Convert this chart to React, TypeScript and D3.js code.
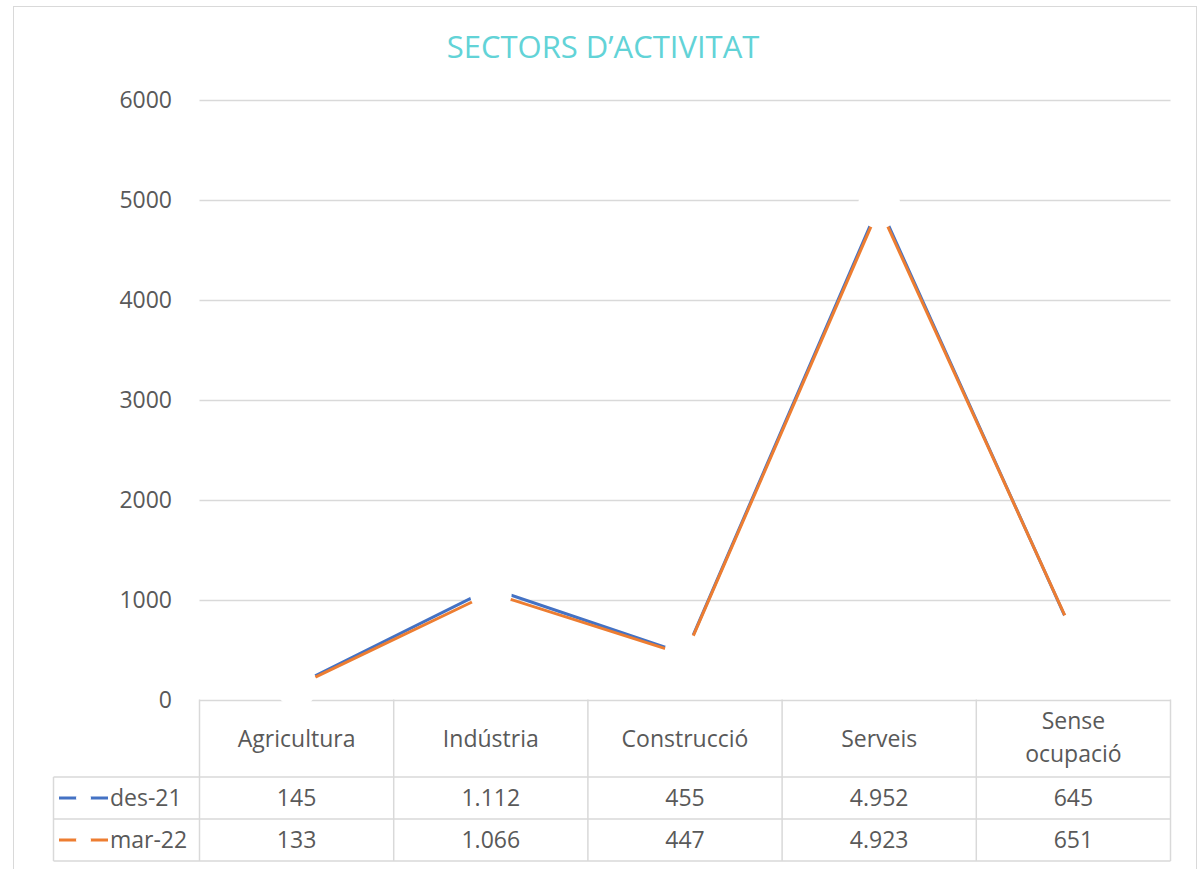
import React, { useEffect, useRef } from 'react';
import * as d3 from 'd3';

const categories = ['Agricultura', 'Indústria', 'Construcció', 'Serveis', 'Sense ocupació'];
const seriesNames = ['des-21', 'mar-22'];
const des21 = [145, 1112, 455, 4952, 645];
const mar22 = [133, 1066, 447, 4923, 651];
const tableLabels = [
  ['145', '1.112', '455', '4.952', '645'],
  ['133', '1.066', '447', '4.923', '651'],
];
const yTicks = [0, 1000, 2000, 3000, 4000, 5000, 6000];
const colors = ['#4472c4', '#ed7d31'];

const W = 1201;
const H = 869;
const FONT = '"Open Sans", sans-serif';
const TEXT = '#595959';
const GRID = '#d9d9d9';

const App = () => {
  const svgRef = useRef<SVGSVGElement | null>(null);

  useEffect(() => {
    const svg = d3.select(svgRef.current);
    svg.selectAll('*').remove();

    const plot = { left: 199.5, right: 1170.5, top: 100, bottom: 699.5 };
    const rows = { header: 777, r1: 819, r2: 861, legendLeft: 53.5 };

    // chart frame
    svg.append('rect')
      .attr('x', 13.5).attr('y', 6.5)
      .attr('width', 1183).attr('height', 900)
      .attr('fill', '#fff').attr('stroke', GRID);

    // title
    svg.append('text')
      .attr('x', 603).attr('y', 58)
      .attr('text-anchor', 'middle')
      .style('font-family', FONT).style('font-size', '31px')
      .attr('fill', '#62d3d7')
      .text('SECTORS D’ACTIVITAT');

    const x = d3.scaleBand<string>().domain(categories).range([plot.left, plot.right]);
    const y = d3.scaleLinear().domain([0, 6000]).range([plot.bottom, plot.top]);

    // gridlines
    svg.append('g').selectAll('line')
      .data(yTicks).enter().append('line')
      .attr('x1', plot.left).attr('x2', plot.right)
      .attr('y1', d => Math.round(y(d)) + 0.5).attr('y2', d => Math.round(y(d)) + 0.5)
      .attr('stroke', GRID).attr('stroke-width', 1.5);

    // y labels
    svg.append('g').selectAll('text')
      .data(yTicks).enter().append('text')
      .attr('x', 172).attr('y', d => y(d))
      .attr('dy', '0.35em').attr('text-anchor', 'end')
      .style('font-family', FONT).style('font-size', '23px')
      .attr('fill', TEXT)
      .text(d => d);

    // lines + white markers
    const line = d3.line<number>()
      .x((_, i) => x(categories[i])! + x.bandwidth() / 2)
      .y(d => y(d));

    [des21, mar22].forEach((vals, si) => {
      svg.append('path')
        .attr('d', line(vals))
        .attr('fill', 'none')
        .attr('stroke', colors[si])
        .attr('stroke-width', 3)
        .attr('stroke-linejoin', 'round');
      svg.append('g').selectAll('circle')
        .data(vals).enter().append('circle')
        .attr('cx', (_, i) => x(categories[i])! + x.bandwidth() / 2)
        .attr('cy', d => y(d))
        .attr('r', 21)
        .attr('fill', '#fff');
    });

    // data table
    const tg = svg.append('g');
    const tLine = (x1: number, y1: number, x2: number, y2: number) =>
      tg.append('line').attr('x1', x1).attr('y1', y1).attr('x2', x2).attr('y2', y2)
        .attr('stroke', GRID).attr('stroke-width', 1.5);

    tLine(rows.legendLeft, rows.header, plot.right, rows.header);
    tLine(rows.legendLeft, rows.r1, plot.right, rows.r1);
    tLine(rows.legendLeft, rows.r2, plot.right, rows.r2);
    tLine(rows.legendLeft, rows.header, rows.legendLeft, rows.r2);
    const edges = categories.map(c => x(c)!).concat([plot.right]);
    edges.forEach(e => tLine(e, plot.bottom, e, rows.r2));

    const txt = (tx: number, ty: number, s: string, anchor = 'middle') =>
      tg.append('text').attr('x', tx).attr('y', ty).attr('dy', '0.35em')
        .attr('text-anchor', anchor)
        .style('font-family', FONT).style('font-size', '23px')
        .attr('fill', TEXT).text(s);

    categories.forEach(c => {
      const cx = x(c)! + x.bandwidth() / 2;
      if (c === 'Sense ocupació') {
        txt(cx, 721, 'Sense');
        txt(cx, 754, 'ocupació');
      } else {
        txt(cx, 739, c);
      }
    });

    const rowMid = [(rows.header + rows.r1) / 2, (rows.r1 + rows.r2) / 2];
    seriesNames.forEach((name, si) => {
      const ry = rowMid[si];
      tg.append('line')
        .attr('x1', 59).attr('x2', 108).attr('y1', ry).attr('y2', ry)
        .attr('stroke', colors[si]).attr('stroke-width', 3);
      tg.append('circle').attr('cx', 83.5).attr('cy', ry).attr('r', 7.5).attr('fill', '#fff');
      txt(110, ry, name, 'start');
      tableLabels[si].forEach((lab, ci) => {
        txt(x(categories[ci])! + x.bandwidth() / 2, ry, lab);
      });
    });
  }, []);

  return (
    <svg
      ref={svgRef}
      width={W}
      height={H}
      style={{ position: 'absolute', left: 0, top: 0, background: '#fff' }}
    />
  );
};

export default App;
